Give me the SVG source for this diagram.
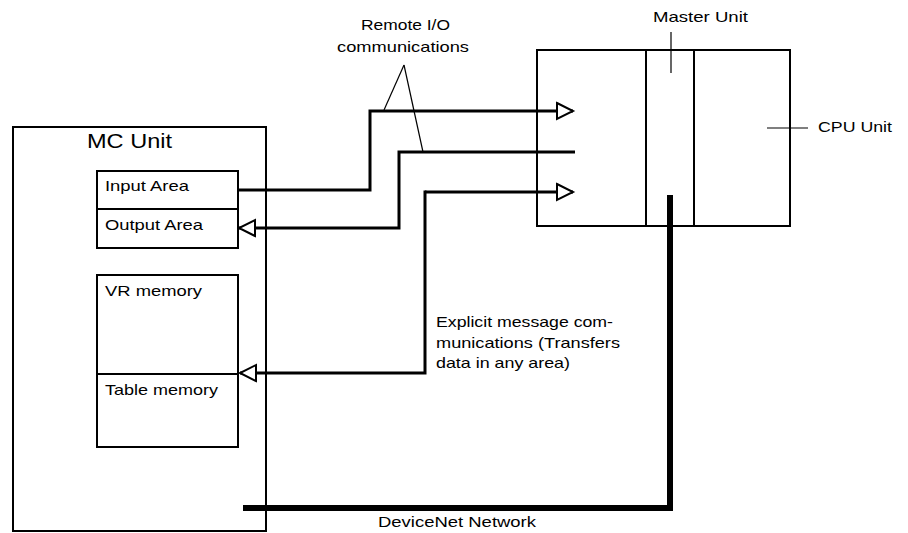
<svg xmlns="http://www.w3.org/2000/svg" width="908" height="533" viewBox="0 0 908 533">
<style>
  .box { fill: none; stroke: #000; stroke-width: 2; }
  .div { stroke: #000; stroke-width: 2; }
  .conn { fill: none; stroke: #000; stroke-width: 3; }
  .lead { fill: none; stroke: #000; stroke-width: 1.2; }
  .net { fill: none; stroke: #000; stroke-width: 6; stroke-linejoin: miter; }
  text { font-family: "Liberation Sans", Arial, Helvetica, sans-serif; font-size: 15px; fill: #000; }
  .big { font-size: 21px; }
</style>
<defs>
  <marker id="tri" markerUnits="userSpaceOnUse" markerWidth="24" markerHeight="24" refX="17" refY="9" orient="auto" overflow="visible">
    <path d="M1,1 L17,9 L1,17 Z" fill="#fff" stroke="#000" stroke-width="2"/>
  </marker>
</defs>
<rect width="908" height="533" fill="#fff"/>

<g id="mc-unit">
  <rect class="box" x="13" y="127" width="253" height="404"/>
  <text class="big" x="87" y="148" textLength="85" lengthAdjust="spacingAndGlyphs">MC Unit</text>
</g>
<g id="io-area">
  <rect class="box" x="97" y="171" width="141" height="77"/>
  <line class="div" x1="97" y1="209" x2="238" y2="209"/>
  <text x="105" y="191" textLength="84" lengthAdjust="spacingAndGlyphs">Input Area</text>
  <text x="105" y="230" textLength="98" lengthAdjust="spacingAndGlyphs">Output Area</text>
</g>
<g id="memory">
  <rect class="box" x="97" y="275" width="141" height="172"/>
  <line class="div" x1="97" y1="374" x2="238" y2="374"/>
  <text x="105" y="296" textLength="97" lengthAdjust="spacingAndGlyphs">VR memory</text>
  <text x="105" y="395" textLength="113" lengthAdjust="spacingAndGlyphs">Table memory</text>
</g>
<g id="plc">
  <rect class="box" x="537" y="50" width="253" height="176"/>
  <line class="div" x1="646" y1="50" x2="646" y2="226"/>
  <line class="div" x1="694" y1="50" x2="694" y2="226"/>
</g>
<g id="master-label">
  <text x="653" y="22" textLength="95" lengthAdjust="spacingAndGlyphs">Master Unit</text>
  <line class="lead" x1="671" y1="32" x2="671" y2="73"/>
</g>
<g id="cpu-label">
  <text x="818" y="132" textLength="74" lengthAdjust="spacingAndGlyphs">CPU Unit</text>
  <line class="lead" x1="767" y1="128" x2="808" y2="128"/>
</g>
<g id="remote-label">
  <text x="361" y="30" textLength="89" lengthAdjust="spacingAndGlyphs">Remote I/O</text>
  <text x="337" y="52" textLength="132" lengthAdjust="spacingAndGlyphs">communications</text>
  <line class="lead" x1="404" y1="65" x2="384" y2="110"/>
  <line class="lead" x1="404" y1="65" x2="423" y2="152"/>
</g>
<g id="explicit-label">
  <text x="436" y="327" textLength="177" lengthAdjust="spacingAndGlyphs">Explicit message com-</text>
  <text x="436" y="348" textLength="184" lengthAdjust="spacingAndGlyphs">munications (Transfers</text>
  <text x="436" y="368" textLength="134" lengthAdjust="spacingAndGlyphs">data in any area)</text>
</g>
<g id="devicenet">
  <path class="net" d="M243,508 H670 V195"/>
  <text x="378" y="527" textLength="158" lengthAdjust="spacingAndGlyphs">DeviceNet Network</text>
</g>

<g id="connectors">
  <path class="conn" d="M238,190 H370 V111 H573" marker-end="url(#tri)"/>
  <path class="conn" d="M575,152 H399 V228 H239" marker-end="url(#tri)"/>
  <path class="conn" d="M425,192 H573" marker-end="url(#tri)"/>
  <path class="conn" d="M425,190.5 V373 H240" marker-end="url(#tri)"/>
</g>
</svg>
